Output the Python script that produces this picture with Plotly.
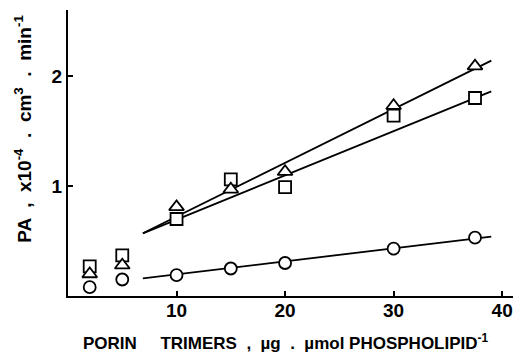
import plotly.graph_objects as go

# Data
x_pts = [2, 5, 10, 15, 20, 30, 37.5]
squares = [0.27, 0.37, 0.70, 1.06, 0.99, 1.64, 1.80]
triangles = [0.20, 0.28, 0.81, 0.97, 1.13, 1.73, 2.09]
circles = [0.08, 0.15, 0.19, 0.25, 0.30, 0.43, 0.53]

fit_x = [6.9, 39.0]
fit_tri = [0.57, 2.14]
fit_sq = [0.57, 1.86]
fit_circ = [0.16, 0.54]

x_ticks = [10, 20, 30, 40]
y_ticks = [1, 2]

BLACK = "#000000"
FONT = "Liberation Sans, Arial, sans-serif"

fig = go.Figure()

for fy in (fit_tri, fit_sq, fit_circ):
    fig.add_trace(go.Scatter(x=fit_x, y=fy, mode="lines",
                             line=dict(color=BLACK, width=1.8),
                             showlegend=False, hoverinfo="skip"))

def add_markers(y, symbol, size):
    fig.add_trace(go.Scatter(x=x_pts, y=y, mode="markers",
                             marker=dict(symbol=symbol, size=size, color="white",
                                         line=dict(color=BLACK, width=1.8)),
                             showlegend=False))

add_markers(circles, "circle", 12)
add_markers(squares, "square", 12)
add_markers(triangles, "triangle-up", 13)

fig.update_layout(
    width=516, height=353,
    margin=dict(l=68, r=3, t=10, b=57),
    paper_bgcolor="white", plot_bgcolor="white",
    font=dict(family=FONT, color=BLACK),
    showlegend=False,
)

fig.update_xaxes(
    range=[0, 41], showgrid=False, zeroline=False,
    showline=True, linecolor=BLACK, linewidth=2,
    ticks="inside", ticklen=5, tickwidth=1.5, tickcolor=BLACK,
    tickvals=x_ticks, ticktext=[f"<b>{v}</b>" for v in x_ticks],
    tickfont=dict(size=19, family=FONT, color=BLACK),
    ticklabelstandoff=-4,
)
fig.update_yaxes(
    range=[0, 2.6], showgrid=False, zeroline=False,
    showline=True, linecolor=BLACK, linewidth=2,
    ticks="inside", ticklen=5, tickwidth=1.5, tickcolor=BLACK,
    tickvals=y_ticks, ticktext=[f"<b>{v}</b>" for v in y_ticks],
    tickfont=dict(size=19, family=FONT, color=BLACK),
)

fig.add_annotation(
    text="<b>PORIN     TRIMERS  ,  µg  .  µmol PHOSPHOLIPID<sup>-1</sup></b>",
    xref="paper", yref="paper", x=0.49, y=0, yshift=-46,
    xanchor="center", yanchor="middle", showarrow=False,
    font=dict(size=17, family=FONT, color=BLACK),
)
fig.add_annotation(
    text="<b>PA  ,  x10<sup>-4</sup>  .  cm<sup>3</sup>  .  min<sup>-1</sup></b>",
    xref="paper", yref="paper", x=0, xshift=-45, y=0.585,
    xanchor="center", yanchor="middle", textangle=-90, showarrow=False,
    font=dict(size=19, family=FONT, color=BLACK),
)

fig.write_html("out.html")
